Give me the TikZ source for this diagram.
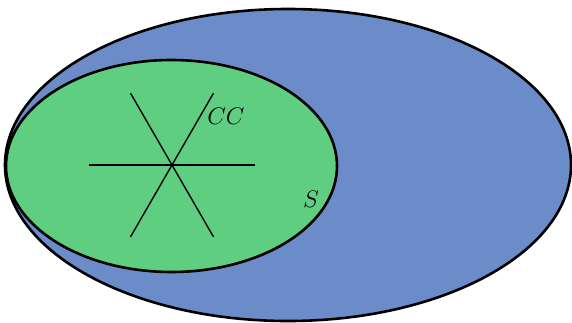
\documentclass[tikz,border=0pt]{standalone}
\usepackage{amsmath}
\usepackage{xcolor}
\usepackage{tikz}
\usetikzlibrary{calc}

\definecolor{setblue}{RGB}{107,140,200}
\definecolor{setgreen}{RGB}{96,206,128}

\begin{document}
\begin{tikzpicture}[x=0.5pt,y=-0.5pt]
  \useasboundingbox (0,0) rectangle (572,322);
  % insiemi
  \draw[line width=1.3pt,fill=setblue] (288,165) ellipse [x radius=283,y radius=156];
  \draw[line width=1.3pt,fill=setgreen] (171.5,166) ellipse [x radius=165.5,y radius=106];
  % stella
  \coordinate (c) at (172,165);
  \foreach \a in {0,60,120}
    \draw[line width=0.7pt] ($(c)+(\a:83)$)--($(c)+(\a+180:83)$);
  \node[font=\large] (cc) at (226,116) {$CC$};
  \node[font=\large] (s) at (311,199) {$S$};
\end{tikzpicture}
\end{document}
